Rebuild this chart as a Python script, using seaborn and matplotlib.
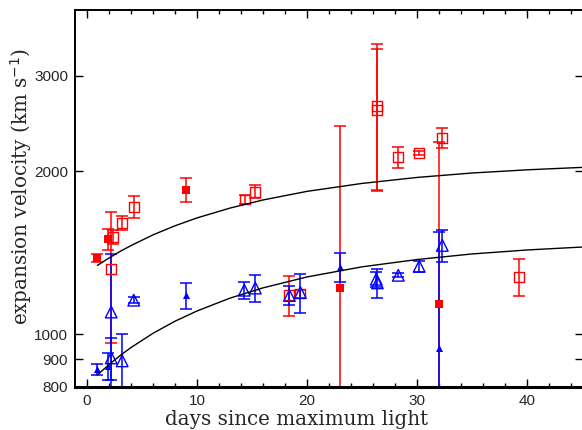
import matplotlib
matplotlib.use("Agg")
import matplotlib.pyplot as plt
import matplotlib.ticker as mticker
import seaborn as sns

# red filled squares
rf_day = [0.9, 1.95, 9.0, 23.0, 32.0]
rf_vel = [1383, 1499, 1849, 1216, 1137]
rf_err = [25, 67, 92, 1210, 1133]

# red open squares
ro_day = [2.15, 2.4, 3.2, 4.25, 14.4, 15.3, 18.4, 19.4, 26.4, 26.4, 28.3, 30.2, 32.3, 39.3]
ro_vel = [1323, 1513, 1606, 1720, 1775, 1834, 1184, 1190, 2640, 2600, 2124, 2161, 2306, 1277]
ro_err = [360, 45, 50, 80, 35, 50, 100, 20, 790, 760, 95, 20, 97, 100]

# blue filled triangles
bf_day = [0.9, 1.95, 9.0, 23.0, 32.0]
bf_vel = [862, 875, 1181, 1332, 945]
bf_err = [20, 50, 65, 82, 600]

# blue open triangles
bo_day = [2.2, 2.2, 3.2, 4.25, 14.3, 15.3, 18.4, 19.4, 26.3, 26.4, 28.3, 30.2, 32.3]
bo_vel = [905, 1100, 894, 1157, 1207, 1218, 1180, 1195, 1265, 1245, 1286, 1336, 1460]
bo_err = [80, 310, 110, 15, 42, 68, 48, 100, 40, 75, 10, 30, 97]

# the two black curves
curve_day = [0.94, 2, 3, 4, 6, 8, 10, 13, 16, 20, 25, 30, 35, 40, 45, 46]
upper_vel = [1341, 1384, 1423, 1459, 1527, 1587, 1641, 1711, 1771, 1837, 1900, 1949, 1986, 2013, 2034, 2038]
lower_vel = [842, 880, 914, 946, 1005, 1058, 1105, 1167, 1219, 1277, 1333, 1375, 1408, 1432, 1450, 1454]

sns.set_style("ticks")
plt.rcParams['font.family'] = ['Liberation Sans', 'DejaVu Sans']

fig = plt.figure(figsize=(5.82, 4.30), dpi=100)
ax = fig.add_axes([75/582, 43/430, 508/582, 377/430])
ax.set_yscale("log")

red = "#ff0000"
blue = "#0000ff"
eb = dict(fmt="none", elinewidth=1.1, capsize=4.5, capthick=1.1, zorder=2)

ax.errorbar(rf_day, rf_vel, yerr=rf_err, ecolor=red, **eb)
ax.errorbar(ro_day, ro_vel, yerr=ro_err, ecolor=red, **eb)
ax.errorbar(bf_day, bf_vel, yerr=bf_err, ecolor=blue, **eb)
ax.errorbar(bo_day, bo_vel, yerr=bo_err, ecolor=blue, **eb)

sns.scatterplot(x=rf_day, y=rf_vel, marker="s", s=28, color=red, edgecolor=red, linewidth=0, ax=ax, zorder=3)
sns.scatterplot(x=ro_day, y=ro_vel, marker="s", s=50, facecolors="none", edgecolors=red, linewidth=1, ax=ax, zorder=3)
sns.scatterplot(x=bf_day, y=bf_vel, marker="^", s=26, color=blue, edgecolor=blue, linewidth=0, ax=ax, zorder=3)
sns.scatterplot(x=bo_day, y=bo_vel, marker="^", s=70, facecolors="none", edgecolors=blue, linewidth=1, ax=ax, zorder=3)

sns.lineplot(x=curve_day, y=upper_vel, color="black", linewidth=1, ax=ax, zorder=4)
sns.lineplot(x=curve_day, y=lower_vel, color="black", linewidth=1, ax=ax, zorder=4)

ax.set_xlim(-1.09, 45.09)
ax.set_ylim(800, 3970)

ax.yaxis.set_major_locator(mticker.FixedLocator([800, 900, 1000, 2000, 3000]))
ax.yaxis.set_major_formatter(mticker.FixedFormatter(["800", "900", "1000", "2000", "3000"]))
ax.yaxis.set_minor_locator(mticker.NullLocator())
ax.xaxis.set_major_locator(mticker.MultipleLocator(10))
ax.xaxis.set_minor_locator(mticker.MultipleLocator(2))

ax.tick_params(which="both", direction="in", top=True, right=True, labelsize=11, pad=5, color="black")
ax.tick_params(which="major", length=6, width=1)
ax.tick_params(which="minor", length=3, width=1)

for s in ["left", "top"]:
    ax.spines[s].set_linewidth(1.4)
ax.spines["bottom"].set_linewidth(2.2)
ax.spines["right"].set_visible(False)
for s in ax.spines.values():
    s.set_color("black")

ax.set_xlabel("days since maximum light", family="DejaVu Serif", fontsize=14.3, labelpad=0)
ax.set_ylabel("expansion velocity (km s$^{-1}$)", family="DejaVu Serif", fontsize=14.3, labelpad=2)
ax.xaxis.set_label_coords(0.436, -0.062)
ax.yaxis.set_label_coords(-0.08, 0.533)

fig.savefig("out.png", dpi=100)
